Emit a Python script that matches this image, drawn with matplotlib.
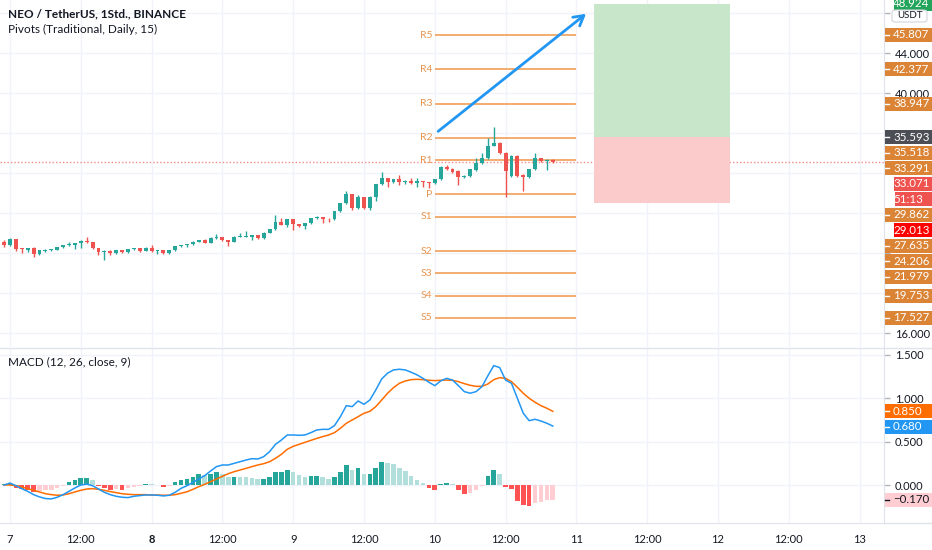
import numpy as np
import matplotlib
matplotlib.use("Agg")
import matplotlib.pyplot as plt
from matplotlib.patches import Rectangle, FancyArrowPatch, FancyBboxPatch
from matplotlib.lines import Line2D

plt.rcParams['font.family'] = ['Lato', 'DejaVu Sans']

# ---------------- data ----------------
first_hour = -1   # hours since day 7 00:00
opens = [25.11, 24.78, 25.38, 24.51, 24.31, 24.46, 23.91, 24.21, 24.26, 24.31,
         24.58, 24.78, 24.84, 24.98, 25.21, 25.08, 24.51, 24.11, 24.21, 23.98,
         24.31, 24.11, 24.38, 24.48, 24.24, 24.54, 24.21, 24.31, 23.98, 24.31,
         24.71, 24.78, 24.91, 25.14, 25.31, 25.04, 25.51, 25.61, 25.31, 25.14,
         25.64, 25.64, 25.58, 25.78, 25.51, 26.04, 26.38, 27.11, 26.84, 27.38,
         26.91, 26.71, 26.98, 27.48, 27.58, 27.41, 27.38, 28.21, 28.98, 29.91,
         28.46, 29.58, 28.48, 29.64, 30.91, 31.48, 31.14, 31.38, 31.08, 31.21,
         31.04, 31.21, 31.08, 30.98, 31.41, 32.64, 32.43, 32.24, 31.58, 31.71,
         32.31, 32.98, 33.48, 34.74, 35.04, 34.04, 31.71, 33.71, 31.81, 31.64,
         32.38, 33.48, 33.24, 33.33]
highs = [25.31, 25.51, 25.45, 24.55, 24.55, 24.60, 24.35, 24.38, 24.45, 24.62,
         24.82, 25.11, 25.02, 25.26, 25.58, 25.12, 24.55, 24.30, 24.35, 24.35,
         24.35, 24.42, 24.55, 24.52, 24.58, 24.81, 24.35, 24.35, 24.35, 24.75,
         24.85, 24.95, 25.18, 25.35, 25.38, 25.58, 25.91, 25.65, 25.35, 25.70,
         26.01, 26.24, 25.82, 25.85, 26.10, 26.45, 27.81, 27.51, 27.45, 27.45,
         26.95, 27.05, 27.55, 27.71, 27.65, 27.50, 28.25, 29.05, 30.21, 29.95,
         29.81, 29.62, 29.70, 30.95, 32.08, 31.55, 31.45, 31.81, 31.30, 31.51,
         31.51, 31.25, 31.15, 31.45, 32.70, 32.76, 32.50, 32.30, 31.80, 32.45,
         33.51, 33.98, 35.48, 36.58, 35.10, 34.10, 33.80, 33.80, 31.90, 32.45,
         33.98, 33.55, 33.45, 33.40]
lows = [24.61, 24.71, 24.24, 24.01, 24.11, 23.64, 23.85, 24.08, 24.20, 24.26,
        24.52, 24.72, 24.44, 24.51, 25.03, 24.45, 23.81, 23.31, 23.81, 23.90,
        24.05, 24.01, 24.32, 24.08, 24.20, 24.15, 23.91, 23.92, 23.90, 24.25,
        24.65, 24.61, 24.85, 25.10, 24.98, 24.98, 25.45, 25.25, 24.71, 25.10,
        25.58, 25.58, 25.31, 25.45, 25.45, 26.00, 26.30, 26.78, 26.61, 26.31,
        26.60, 26.41, 26.90, 27.42, 27.04, 27.11, 27.32, 28.15, 28.90, 28.31,
        28.40, 28.40, 28.31, 29.24, 30.85, 30.64, 31.05, 30.81, 30.95, 30.91,
        30.64, 30.64, 30.51, 30.90, 31.35, 32.30, 32.05, 30.81, 31.50, 31.65,
        32.25, 32.90, 33.40, 34.68, 33.90, 29.58, 31.60, 31.60, 30.24, 31.55,
        32.30, 33.15, 32.31, 33.00]
closes = [24.78, 25.38, 24.38, 24.38, 24.46, 23.91, 24.31, 24.31, 24.38, 24.58,
          24.78, 24.91, 24.98, 25.21, 25.08, 24.51, 24.11, 24.24, 23.98, 24.31,
          24.11, 24.38, 24.48, 24.24, 24.54, 24.21, 24.31, 23.98, 24.31, 24.71,
          24.78, 24.91, 25.14, 25.31, 25.04, 25.51, 25.61, 25.31, 25.14, 25.64,
          25.69, 25.66, 25.78, 25.51, 26.04, 26.38, 27.11, 26.84, 27.38, 26.91,
          26.71, 26.98, 27.48, 27.58, 27.41, 27.38, 28.21, 28.98, 29.91, 28.46,
          29.58, 28.48, 29.64, 30.91, 31.48, 31.14, 31.38, 31.08, 31.21, 31.04,
          31.21, 31.08, 30.98, 31.41, 32.64, 32.38, 32.14, 31.58, 31.71, 32.38,
          32.98, 33.48, 34.74, 35.04, 33.98, 32.24, 33.71, 31.71, 31.64, 32.38,
          33.48, 33.24, 33.33, 33.071]

macd = [0.000, 0.023, -0.008, -0.042, -0.073, -0.111, -0.137, -0.156, -0.160, -0.141,
        -0.111, -0.073, -0.034, 0.000, 0.011, -0.008, -0.046, -0.084, -0.111, -0.130,
        -0.141, -0.145, -0.130, -0.122, -0.115, -0.115, -0.118, -0.126, -0.118, -0.084,
        -0.038, -0.008, 0.031, 0.069, 0.108, 0.162, 0.212, 0.231, 0.231, 0.250,
        0.269, 0.288, 0.304, 0.300, 0.327, 0.385, 0.469, 0.519, 0.577, 0.577,
        0.573, 0.577, 0.604, 0.635, 0.642, 0.642, 0.685, 0.788, 0.915, 0.904,
        0.969, 0.931, 0.981, 1.096, 1.223, 1.290, 1.327, 1.335, 1.327, 1.300,
        1.270, 1.230, 1.185, 1.146, 1.200, 1.230, 1.210, 1.146, 1.077, 1.058,
        1.077, 1.135, 1.260, 1.377, 1.354, 1.210, 1.173, 1.000, 0.827, 0.742,
        0.758, 0.738, 0.712, 0.680]
signal = [0.000, 0.000, -0.008, -0.023, -0.042, -0.061, -0.080, -0.100, -0.111, -0.118,
          -0.115, -0.100, -0.080, -0.061, -0.046, -0.042, -0.050, -0.061, -0.076, -0.088,
          -0.100, -0.107, -0.111, -0.111, -0.111, -0.115, -0.115, -0.118, -0.118, -0.111,
          -0.095, -0.078, -0.050, -0.019, 0.008, 0.038, 0.069, 0.100, 0.131, 0.154,
          0.173, 0.192, 0.212, 0.231, 0.246, 0.269, 0.308, 0.354, 0.412, 0.446,
          0.469, 0.492, 0.515, 0.538, 0.558, 0.577, 0.604, 0.654, 0.712, 0.750,
          0.788, 0.827, 0.850, 0.904, 0.980, 1.058, 1.123, 1.173, 1.200, 1.215,
          1.219, 1.215, 1.208, 1.204, 1.208, 1.210, 1.208, 1.192, 1.169, 1.150,
          1.138, 1.138, 1.165, 1.215, 1.238, 1.230, 1.192, 1.127, 1.058, 1.000,
          0.954, 0.915, 0.885, 0.850]
hist = [0.008, 0.023, -0.034, -0.046, -0.053, -0.084, -0.065, -0.061, -0.058, -0.038,
        -0.008, 0.031, 0.053, 0.076, 0.084, 0.053, -0.008, -0.034, -0.053, -0.046,
        -0.053, -0.034, -0.019, -0.012, 0.010, 0.007, 0.004, -0.019, -0.006, 0.031,
        0.061, 0.072, 0.096, 0.123, 0.115, 0.131, 0.146, 0.123, 0.096, 0.098,
        0.096, 0.094, 0.085, 0.065, 0.073, 0.088, 0.146, 0.154, 0.173, 0.154,
        0.115, 0.096, 0.104, 0.108, 0.088, 0.065, 0.088, 0.154, 0.231, 0.173,
        0.192, 0.123, 0.127, 0.200, 0.262, 0.250, 0.246, 0.200, 0.162, 0.104,
        0.058, 0.019, -0.031, -0.054, 0.012, 0.027, 0.008, -0.058, -0.104, -0.088,
        -0.054, -0.008, 0.104, 0.173, 0.127, -0.027, -0.050, -0.181, -0.231, -0.238,
        -0.212, -0.192, -0.173, -0.170]

pivot_names = ['R5', 'R4', 'R3', 'R2', 'R1', 'P', 'S1', 'S2', 'S3', 'S4', 'S5']
pivot_values = [45.807, 42.377, 38.947, 35.518, 33.291, 29.862, 27.635, 24.206, 21.979, 19.753, 17.527]
pivot_start_hour, pivot_end_hour = 72, 96

pos_start_hour, pos_end_hour = 99, 122
entry_price, stop_price, target_price = 35.593, 29.013, 48.924
arrow_start = (72.2, 36.0)
arrow_end = (98.0, 48.1)
countdown = '51:13'

day_ticks = list(range(0, 145, 12))
day_labels = ['7', '12:00', '8', '12:00', '9', '12:00', '10', '12:00', '11', '12:00', '12', '12:00', '13']
price_ticks = [16, 20, 24, 28, 32, 36, 40, 44, 48]
macd_ticks = [0.0, 0.5, 1.0, 1.5]

# ---------------- style ----------------
W, H = 932, 550
UP, DOWN = '#26A69A', '#EF5350'
GRID = '#F0F3FA'
TXT = '#131722'
AXLINE = '#E0E3EB'
PIV = '#F2A765'
PIVTXT = '#E8944F'
PIVBOX = '#DB8436'
BOX_H = 14
STEP = 15.5

fig = plt.figure(figsize=(W / 100, H / 100), dpi=100)
fig.patch.set_facecolor('white')
plot_w = 884
ax1 = fig.add_axes([0, (H - 347) / H, plot_w / W, 347 / H])
ax2 = fig.add_axes([0, (H - 523) / H, plot_w / W, (523 - 348) / H])

xs = np.arange(first_hour, first_hour + len(closes))
xlim = (-1.695, 148.14)

# ---------- price pane ----------
ax1.set_xlim(*xlim)
ax1.set_ylim(14.607, 49.307)
for t in day_ticks:
    ax1.axvline(t, color=GRID, lw=1, zorder=0)
for t in price_ticks:
    ax1.axhline(t, color=GRID, lw=1, zorder=0)

o = np.array(opens); c = np.array(closes); hi = np.array(highs); lo = np.array(lows)
cols = [UP if cc >= oo else DOWN for oo, cc in zip(o, c)]
ax1.vlines(xs, lo, hi, colors=cols, lw=1.0, zorder=3)
body_bottom = np.minimum(o, c)
body_h = np.maximum(np.abs(c - o), 0.07)
ax1.bar(xs, body_h, bottom=body_bottom, width=0.66, color=cols, zorder=4, linewidth=0)

# pivots
for name, v in zip(pivot_names, pivot_values):
    ax1.hlines(v, pivot_start_hour, pivot_end_hour, color=PIV, lw=1.3, zorder=2)
    ax1.annotate(name, (pivot_start_hour, v), xytext=(-2, 0), textcoords='offset points',
                 ha='right', va='center', color=PIVTXT, fontsize=7.5, zorder=2)

# last price dotted line
ax1.axhline(closes[-1], color='#F28B8B', lw=1, ls=(0, (1, 1.5)), zorder=1)

# position tool
ax1.add_patch(Rectangle((pos_start_hour, entry_price), pos_end_hour - pos_start_hour,
                        target_price - entry_price, facecolor='#C8E6C9', edgecolor='none', zorder=1))
ax1.add_patch(Rectangle((pos_start_hour, stop_price), pos_end_hour - pos_start_hour,
                        entry_price - stop_price, facecolor='#FBCACA', edgecolor='none', zorder=1))

# arrow
arr = FancyArrowPatch(arrow_start, arrow_end, arrowstyle='->,head_length=7,head_width=4',
                      color='#2196F3', lw=2, mutation_scale=1, zorder=6)
ax1.add_patch(arr)

ax1.yaxis.tick_right()
ax1.set_yticks(price_ticks)
ax1.tick_params(axis='y', length=4, width=1, color='#B2B5BE', pad=4, labelsize=8, labelcolor=TXT)
ax1.set_xticks([])
for s in ['top', 'left', 'bottom']:
    ax1.spines[s].set_visible(False)
ax1.spines['right'].set_color(AXLINE)

ax1.text(8 / plot_w, 1 - 14 / 347, 'NEO / TetherUS, 1Std., BINANCE', transform=ax1.transAxes,
         fontsize=8.5, fontweight='bold', color=TXT, va='center', ha='left')
ax1.text(8 / plot_w, 1 - 29 / 347, 'Pivots (Traditional, Daily, 15)', transform=ax1.transAxes,
         fontsize=8.5, color=TXT, va='center', ha='left')

# ---------- MACD pane ----------
ax2.set_xlim(*xlim)
ax2.set_ylim(-0.438, 1.58)
for t in day_ticks:
    ax2.axvline(t, color=GRID, lw=1, zorder=0)
for t in macd_ticks:
    ax2.axhline(t, color=GRID, lw=1, zorder=0)

hcols = []
prev = None
for hv in hist:
    rising = prev is None or hv >= prev
    if hv >= 0:
        hcols.append('#26A69A' if rising else '#B2DFDB')
    else:
        hcols.append('#FFCDD2' if rising else '#FF5252')
    prev = hv
ax2.bar(xs, hist, width=0.78, color=hcols, zorder=2, linewidth=0)
ax2.plot(xs, signal, color='#FF6D00', lw=1.1, zorder=3)
ax2.plot(xs, macd, color='#2196F3', lw=1.1, zorder=4)

ax2.yaxis.tick_right()
ax2.set_yticks(macd_ticks)
ax2.tick_params(axis='y', length=4, width=1, color='#B2B5BE', pad=4, labelsize=8, labelcolor=TXT)
ax2.set_xticks(day_ticks)
ax2.set_xticklabels(day_labels)
ax2.tick_params(axis='x', length=0, pad=8, labelsize=8, labelcolor=TXT)
for lbl in ax2.get_xticklabels():
    if lbl.get_text() == '8':
        lbl.set_fontweight('bold')
for s in ['top', 'left']:
    ax2.spines[s].set_visible(False)
ax2.spines['right'].set_color(AXLINE)
ax2.spines['bottom'].set_color(AXLINE)
ax2.text(8 / plot_w, 1 - 14 / 175, 'MACD (12, 26, close, 9)', transform=ax2.transAxes,
         fontsize=8.5, color=TXT, va='center', ha='left')

# pane separator and bottom axis line across right area
fig.add_artist(Line2D([0, 1], [(H - 347.5) / H, (H - 347.5) / H], transform=fig.transFigure,
                      color=AXLINE, lw=1))
fig.add_artist(Line2D([plot_w / W, 1], [(H - 523) / H, (H - 523) / H], transform=fig.transFigure,
                      color=AXLINE, lw=1))

# ---------- axis label boxes ----------
def draw_box(ytop, text, fc, tc, x0):
    fig.add_artist(Rectangle((x0 / W, (H - ytop - BOX_H / 2) / H), (W - x0) / W, BOX_H / H,
                             transform=fig.transFigure, facecolor=fc, edgecolor='none', zorder=10))
    if x0 < 888:
        fig.add_artist(Line2D([885 / W, 889 / W], [(H - ytop) / H] * 2, transform=fig.transFigure,
                              color=tc, lw=1, zorder=11))
    fig.text(893 / W, (H - ytop) / H, text, color=tc, fontsize=8.3, va='center', ha='left', zorder=12)


def place_labels(ax, labels, fmt):
    fig.canvas.draw()
    ys = []
    last = -1e9
    for v, fc, tc, x0, extra in labels:
        y = H - ax.transData.transform((0, v))[1]
        y = max(y, last + STEP)
        draw_box(y, fmt(v), fc, tc, x0)
        ys.append(y)
        last = y
        if extra:
            draw_box(y + STEP, extra, fc, tc, 895)
            ys.append(y + STEP)
            last = y + STEP
    return ys


def set_visible_ticks(ax, ticks, box_ys, extra_block=()):
    labels = []
    for t in ticks:
        y = H - ax.transData.transform((0, t))[1]
        hidden = any(abs(y - by) < 10 for by in list(box_ys) + list(extra_block))
        labels.append('' if hidden else f'{t:.3f}')
    ax.set_yticklabels(labels)


price_labels = [(target_price, '#22A55B', 'white', 894, None),
                (entry_price, '#4B4E55', 'white', 885, None),
                (closes[-1], '#EF5350', 'white', 894, countdown),
                (stop_price, '#FF0000', 'white', 894, None)]
for v in pivot_values:
    price_labels.append((v, PIVBOX, 'white', 885, None))
price_labels.sort(key=lambda r: -r[0])
price_box_ys = place_labels(ax1, price_labels, lambda v: f'{v:.3f}')
set_visible_ticks(ax1, price_ticks, price_box_ys, extra_block=(15,))

# USDT badge
fig.add_artist(FancyBboxPatch((892 / W, (H - 22) / H), 35 / W, 12 / H,
                              boxstyle='round,pad=0,rounding_size=0.004', transform=fig.transFigure,
                              facecolor='white', edgecolor='#D1D4DC', lw=0.8, zorder=13))
fig.text(909.5 / W, (H - 16) / H, 'USDT', color=TXT, fontsize=7, va='center', ha='center', zorder=14)

macd_labels = [(signal[-1], '#FF6D00', 'white', 885, None),
               (macd[-1], '#2196F3', 'white', 885, None),
               (hist[-1], '#FFCDD2', TXT, 885, None)]
macd_labels.sort(key=lambda r: -r[0])
macd_box_ys = place_labels(ax2, macd_labels, lambda v: f'{v:.3f}'.replace('-', '\u2212'))
set_visible_ticks(ax2, macd_ticks, macd_box_ys)

fig.savefig('out.png', dpi=100, facecolor='white')
